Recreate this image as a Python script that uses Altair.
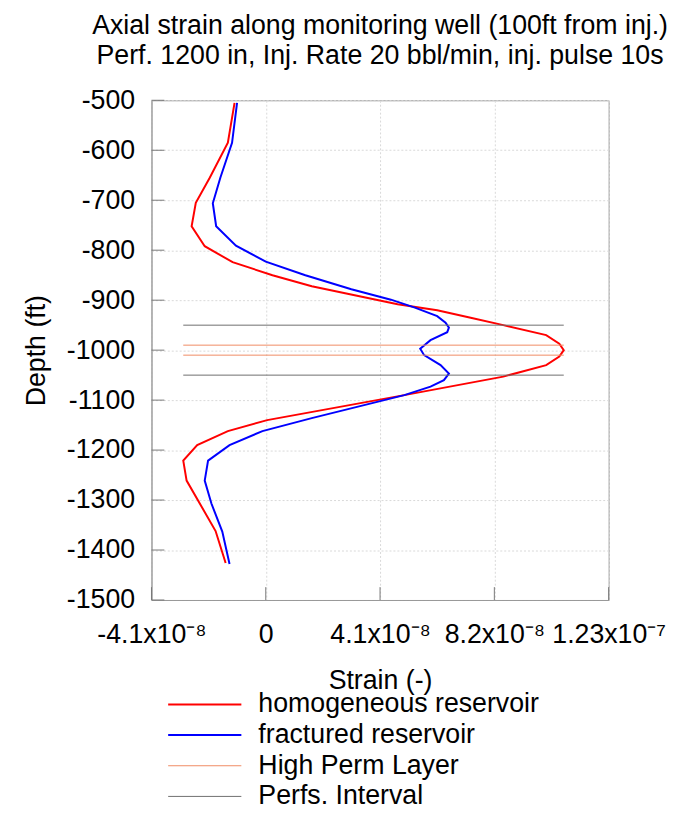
import altair as alt
import pandas as pd

# ---------------- data ----------------
series_names = ["homogeneous reservoir", "fractured reservoir", "High Perm Layer", "Perfs. Interval"]
series_colors = ["#ff0000", "#0000ff", "#f08c64", "#6e6e6e"]

depth_homog = [-505, -585, -655, -705, -752, -792, -824, -850, -872, -890, -908, -920, -935, -950,
               -970, -987, -1000, -1013, -1030, -1053, -1090, -1140, -1162, -1190, -1221, -1261,
               -1362, -1426]
strain_homog_e8 = [-1.12, -1.36, -2.01, -2.51, -2.66, -2.19, -1.19, 0.24, 1.65, 3.19, 4.73, 6.15, 7.35,
                   8.52, 10.06, 10.53, 10.69, 10.53, 10.06, 8.52, 4.97, 0.05, -1.36, -2.46, -2.96,
                   -2.84, -1.80, -1.44]

depth_frac = [-505, -585, -655, -706, -752, -791, -823, -850, -878, -899, -915, -932, -945, -955,
              -964, -980, -997, -1010, -1030, -1047, -1060, -1073, -1090, -1136, -1162, -1190,
              -1221, -1261, -1307, -1363, -1428]
strain_frac_e8 = [-1.03, -1.21, -1.63, -1.90, -1.78, -1.07, 0.0, 1.42, 3.07, 4.49, 5.35, 6.15, 6.45,
                  6.57, 6.51, 5.91, 5.54, 5.68, 6.27, 6.57, 6.39, 5.91, 4.97, 1.65, -0.12, -1.30,
                  -2.07, -2.19, -1.95, -1.56, -1.30]

hline_series = ["Perfs. Interval", "Perfs. Interval", "High Perm Layer", "High Perm Layer"]
hline_depth = [-950, -1050, -990, -1010]
hline_x_start_e8 = [-2.96, -2.96, -2.96, -2.96]
hline_x_end_e8 = [10.69, 10.69, 10.69, 10.69]

x_tick_values = [-4.1e-8, 0.0, 4.1e-8, 8.2e-8, 1.23e-7]
x_tick_labels = ["-4.1x10\u207b\u2078", "0", "4.1x10\u207b\u2078", "8.2x10\u207b\u2078", "1.23x10\u207b\u2077"]
y_tick_values = list(range(-1500, -499, 100))

title_lines = ["Axial strain along monitoring well (100ft from inj.)",
               "Perf. 1200 in, Inj. Rate 20 bbl/min, inj. pulse 10s"]

# ---------------- tables ----------------
rows = []
for i, (d, s) in enumerate(zip(depth_homog, strain_homog_e8)):
    rows.append({"series": series_names[0], "depth": d, "strain": s * 1e-8, "idx": i})
for i, (d, s) in enumerate(zip(depth_frac, strain_frac_e8)):
    rows.append({"series": series_names[1], "depth": d, "strain": s * 1e-8, "idx": i})
curves = pd.DataFrame(rows)

hlines = pd.DataFrame({
    "series": hline_series,
    "depth": hline_depth,
    "x1": [v * 1e-8 for v in hline_x_start_e8],
    "x2": [v * 1e-8 for v in hline_x_end_e8],
})
xticks_df = pd.DataFrame({"v": x_tick_values})
yticks_df = pd.DataFrame({"v": y_tick_values})

# ---------------- chart ----------------
W, H = 462, 505
FONT = "Liberation Sans"
FS = 27

label_expr = "''"
for v, lab in reversed(list(zip(x_tick_values, x_tick_labels))):
    label_expr = f"abs(datum.value - ({v})) < 1e-11 ? '{lab}' : ({label_expr})"

xscale = alt.Scale(domain=[-4.1e-8, 1.23e-7], nice=False, zero=False)
yscale = alt.Scale(domain=[-1500, -500], nice=False, zero=False)

width_signal = ("datum.value == 'homogeneous reservoir' || datum.value == 'fractured reservoir' ? 2 : 1")

color = alt.Color(
    "series:N",
    scale=alt.Scale(domain=series_names, range=series_colors),
    legend=alt.Legend(
        title=None, orient="none", legendX=65, legendY=597,
        symbolType="M-5,0H1", symbolSize=608,
        symbolStrokeWidth=alt.ExprRef(width_signal),
        labelFont=FONT, labelFontSize=FS, labelOffset=16, labelColor="black",
        rowPadding=3, labelLimit=500,
    ),
)

x_axis = alt.Axis(
    values=x_tick_values, labelExpr=label_expr, labelFontSize=FS, labelFont=FONT,
    labelColor="black", labelPadding=22, ticks=False, grid=True, gridDash=[2, 2],
    gridColor="#d9d9d9", domainColor="#999999", title="Strain (-)", titleFontSize=FS,
    titleFont=FONT, titleFontWeight="normal", titleColor="black", titlePadding=20,
    labelOverlap=False, labelFlush=False,
)
y_axis = alt.Axis(
    values=y_tick_values, labelExpr="'' + datum.value", labelFontSize=FS, labelFont=FONT,
    labelColor="black", labelPadding=17, ticks=False, grid=True, gridDash=[2, 2],
    gridColor="#d9d9d9", domainColor="#999999", title="Depth (ft)", titleFontSize=FS,
    titleFont=FONT, titleFontWeight="normal", titleColor="black", titlePadding=16,
    labelOverlap=False,
)

lines = alt.Chart(curves).mark_line(strokeWidth=2).encode(
    x=alt.X("strain:Q", scale=xscale, axis=x_axis),
    y=alt.Y("depth:Q", scale=yscale, axis=y_axis),
    color=color,
    order=alt.Order("idx:Q"),
)

hl = alt.Chart(hlines).mark_rule(strokeWidth=1).encode(
    x=alt.X("x1:Q", scale=xscale, axis=x_axis),
    x2="x2:Q",
    y=alt.Y("depth:Q", scale=yscale, axis=y_axis),
    color=color,
)

xt = alt.Chart(xticks_df).mark_rule(color="#777777", strokeWidth=1).encode(
    x=alt.X("v:Q", scale=xscale, axis=x_axis),
    y=alt.value(H), y2=alt.value(H - 13),
)
yt = alt.Chart(yticks_df).mark_rule(color="#777777", strokeWidth=1).encode(
    y=alt.Y("v:Q", scale=yscale, axis=y_axis),
    x=alt.value(0), x2=alt.value(13),
)

chart = alt.layer(lines, hl, xt, yt).properties(
    width=W, height=H,
    title=alt.TitleParams(title_lines, fontSize=FS, font=FONT, fontWeight="normal",
                          anchor="middle", frame="group", lineHeight=30, offset=17,
                          color="black"),
    padding={"left": 14, "top": 0, "right": 0, "bottom": 0},
).configure(font=FONT).configure_view(stroke="#999999", strokeWidth=1)

chart.save("out.html", embed_options={"renderer": "svg", "actions": False})
